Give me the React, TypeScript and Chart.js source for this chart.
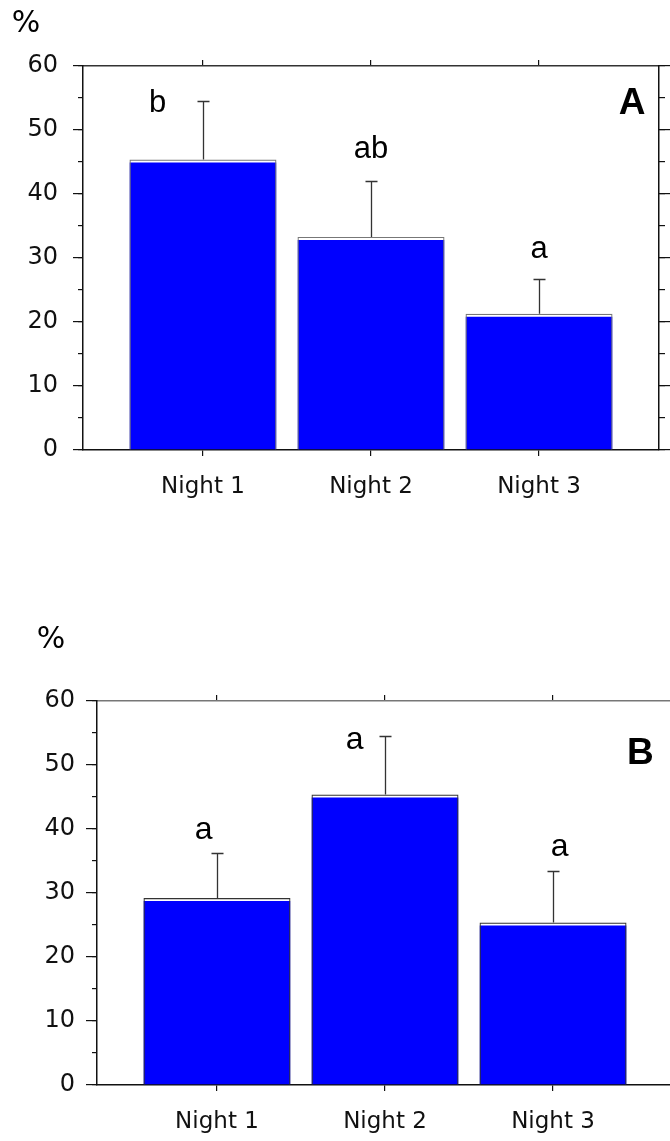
import React, { useEffect, useRef } from 'react';
import { Chart, registerables } from 'chart.js';

Chart.register(...registerables);

// ---------- data ----------
const categories = ['Night 1', 'Night 2', 'Night 3'];
const categoryIndex = [0, 1, 2];

const valuesA = [45.4, 33.3, 21.3];
const errorsA = [9.1, 8.7, 5.4];
const lettersA = ['b', 'ab', 'a'];
const letterXA = [-0.27, 1.0, 2.0];
const letterYA = [54.2, 46.9, 31.3];

const valuesB = [29.2, 45.4, 25.4];
const errorsB = [7.1, 9.2, 8.0];
const lettersB = ['a', 'a', 'a'];
const letterXB = [-0.08, 0.82, 2.04];
const letterYB = [39.8, 53.9, 37.2];

const yMin = 0;
const yMax = 60;
const yMajorStep = 10;
const yMinorStep = 5;
const unitLabel = '%';

type Panel = {
  key: string;
  title: string;
  titleX: number;
  titleY: number;
  values: number[];
  errors: number[];
  letters: string[];
  letterX: number[];
  letterY: number[];
  canvasW: number;
  canvasH: number;
  top: number;
  left: number;
  areaLeft: number;
  areaRight: number;
  areaTop: number;
  areaBottom: number;
  pctX: number;
  pctY: number;
  tickPad: number;
  outline: string;
  yFont: number;
  letterFont: number;
};

const panels: Panel[] = [
  {
    key: 'A', title: 'A', titleX: 2.554, titleY: 54.1,
    values: valuesA, errors: errorsA, letters: lettersA, letterX: letterXA, letterY: letterYA,
    canvasW: 700, canvasH: 530, top: 0, left: 0,
    areaLeft: 83, areaRight: 659, areaTop: 66, areaBottom: 450,
    pctX: 26, pctY: 24, tickPad: 15, outline: '#777', yFont: 24, letterFont: 31,
  },
  {
    key: 'B', title: 'B', titleX: 2.52, titleY: 51.7,
    values: valuesB, errors: errorsB, letters: lettersB, letterX: letterXB, letterY: letterYB,
    canvasW: 720, canvasH: 541, top: 600, left: 0,
    areaLeft: 97, areaRight: 673, areaTop: 101, areaBottom: 485,
    pctX: 51, pctY: 40, tickPad: 11, outline: '#333', yFont: 24, letterFont: 32,
  },
];

const X_MIN = -0.714;
const X_MAX = 2.714;
const FONT = "'DejaVu Sans', sans-serif";

function makeAnnotPlugin(p: Panel) {
  return {
    id: 'annot' + p.key,
    afterDatasetsDraw(chart: any) {
      const xs = chart.scales.x;
      const ys = chart.scales.y;
      const ctx = chart.ctx as CanvasRenderingContext2D;
      ctx.save();
      ctx.strokeStyle = '#333';
      ctx.lineWidth = 1.3;
      p.values.forEach((v, i) => {
        const px = Math.round(xs.getPixelForValue(categoryIndex[i])) + 0.5;
        const y0 = ys.getPixelForValue(v);
        const y1 = Math.round(ys.getPixelForValue(v + p.errors[i])) + 0.5;
        ctx.beginPath();
        ctx.moveTo(px, y0);
        ctx.lineTo(px, y1);
        ctx.moveTo(px - 6, y1);
        ctx.lineTo(px + 6, y1);
        ctx.stroke();
      });
      ctx.fillStyle = '#000';
      ctx.textAlign = 'center';
      ctx.textBaseline = 'middle';
      ctx.font = `${p.letterFont}px 'Liberation Sans', Arial, sans-serif`;
      p.letters.forEach((t, i) => {
        ctx.fillText(t, xs.getPixelForValue(p.letterX[i]), ys.getPixelForValue(p.letterY[i]));
      });
      ctx.font = "bold 37px 'Liberation Sans', Arial, sans-serif";
      ctx.fillText(p.title, xs.getPixelForValue(p.titleX), ys.getPixelForValue(p.titleY));
      ctx.font = `30px ${FONT}`;
      ctx.fillText(unitLabel, p.pctX, p.pctY);
      ctx.restore();
    },
  };
}

function buildChart(canvas: HTMLCanvasElement, p: Panel) {
  const fixedTicks = (s: any) => {
    s.ticks = categoryIndex.map((v) => ({ value: v }));
  };
  const axisColor = '#111';
  const xCommon = {
    type: 'linear' as const,
    min: X_MIN,
    max: X_MAX,
    offset: false,
    afterBuildTicks: fixedTicks,
  };
  const yCommon = {
    type: 'linear' as const,
    min: yMin,
    max: yMax,
  };
  return new Chart(canvas, {
    type: 'bar',
    data: {
      datasets: [
        {
          label: 'outline',
          data: categoryIndex.map((c, i) => ({ x: c, y: p.values[i] })),
          backgroundColor: 'rgba(0,0,0,0)',
          borderColor: p.outline,
          borderWidth: 1.2,
          borderSkipped: 'start',
          grouped: false,
          barPercentage: 0.875,
          categoryPercentage: 1,
        },
        {
          label: 'fill',
          data: categoryIndex.map((c, i) => ({ x: c, y: p.values[i] })),
          backgroundColor: '#0000ff',
          borderColor: '#ffffff',
          borderWidth: { top: 3, left: 0, right: 0, bottom: 0 },
          borderSkipped: false,
          grouped: false,
          barPercentage: 0.875,
          categoryPercentage: 1,
        },
      ] as any,
    },
    options: {
      responsive: false,
      animation: false,
      events: [],
      layout: {
        padding: { top: p.areaTop, left: 0, right: p.canvasW - p.areaRight, bottom: 0 },
      },
      plugins: {
        legend: { display: false },
        tooltip: { enabled: false },
        title: { display: false },
      },
      scales: {
        x: {
          ...xCommon,
          position: 'bottom',
          afterFit: (s: any) => { s.height = p.canvasH - p.areaBottom; },
          grid: { drawOnChartArea: false, offset: false, tickLength: 6, color: axisColor, lineWidth: 1.2 },
          border: { display: true, color: axisColor, width: 1.5 },
          ticks: {
            color: '#111',
            font: { family: FONT, size: 23 },
            padding: 17,
            maxRotation: 0,
            autoSkip: false,
            callback: (v: any) => categories[Math.round(Number(v))] ?? '',
          },
        },
        xTop: {
          ...xCommon,
          position: 'top',
          afterFit: (s: any) => { s.height = 0; },
          grid: { drawOnChartArea: false, offset: false, tickLength: 6, color: axisColor, lineWidth: 1.2 },
          border: { display: true, color: p.key === 'B' ? '#777' : '#333', width: 1.5 },
          ticks: { display: false },
        },
        y: {
          ...yCommon,
          position: 'left',
          weight: 1,
          afterFit: (s: any) => { s.width = p.areaLeft; },
          grid: { drawOnChartArea: false, tickLength: p.key === 'A' ? 10 : 11, color: axisColor, lineWidth: 1.2 },
          border: { display: true, color: axisColor, width: 1.5 },
          ticks: {
            stepSize: yMajorStep,
            color: '#111',
            font: { family: FONT, size: p.yFont },
            padding: p.tickPad,
          },
        },
        yMinor: {
          ...yCommon,
          position: 'left',
          weight: 0,
          afterFit: (s: any) => { s.width = 0; },
          grid: { drawOnChartArea: false, tickLength: 5, color: axisColor, lineWidth: 1.2 },
          border: { display: false },
          ticks: { stepSize: yMinorStep, display: false },
        },
        yRight: {
          ...yCommon,
          position: 'right',
          weight: 1,
          afterFit: (s: any) => { s.width = 0; },
          grid: { drawOnChartArea: false, tickLength: 11, color: axisColor, lineWidth: 1.2 },
          border: { display: true, color: axisColor, width: 1.5 },
          ticks: { stepSize: yMajorStep, display: false },
        },
        yRightMinor: {
          ...yCommon,
          position: 'right',
          weight: 0,
          afterFit: (s: any) => { s.width = 0; },
          grid: { drawOnChartArea: false, tickLength: 6, color: axisColor, lineWidth: 1.2 },
          border: { display: false },
          ticks: { stepSize: yMinorStep, display: false },
        },
      } as any,
    },
    plugins: [makeAnnotPlugin(p)],
  });
}

function PanelChart({ p }: { p: Panel }) {
  const ref = useRef<HTMLCanvasElement | null>(null);
  useEffect(() => {
    if (!ref.current) return;
    const chart = buildChart(ref.current, p);
    return () => chart.destroy();
  }, [p]);
  return (
    <canvas
      ref={ref}
      width={p.canvasW}
      height={p.canvasH}
      style={{ position: 'absolute', left: p.left, top: p.top, width: p.canvasW, height: p.canvasH }}
    />
  );
}

export default function App() {
  useEffect(() => {
    document.body.style.overflow = 'hidden';
  }, []);
  return (
    <div
      style={{
        position: 'fixed',
        left: 0,
        top: 0,
        width: 670,
        height: 1141,
        overflow: 'hidden',
        background: '#fff',
      }}
    >
      {panels.map((p) => (
        <PanelChart key={p.key} p={p} />
      ))}
    </div>
  );
}
